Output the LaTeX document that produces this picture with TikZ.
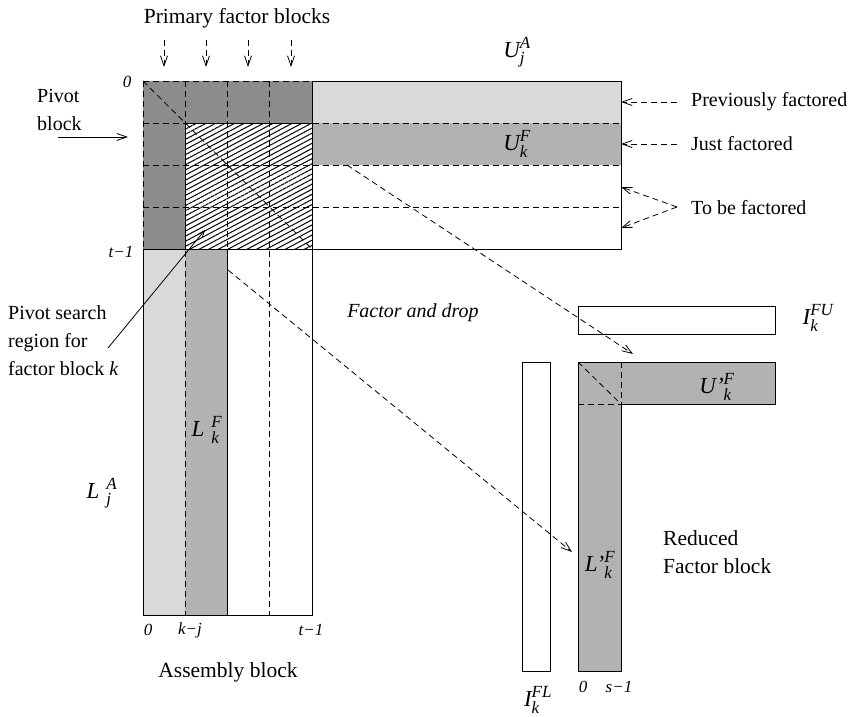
\documentclass[tikz,border=0pt]{standalone}
\usepackage{amsmath}
\usepackage{fontspec}
\setmainfont{Liberation Serif}
\usetikzlibrary{arrows.meta,patterns.meta}
\DeclareMathSizes{23}{23}{17}{13}
\definecolor{darkg}{gray}{0.55}
\definecolor{midg}{gray}{0.70}
\definecolor{lightg}{gray}{0.85}
\newcommand{\ml}[3]{$\textit{#1}^{\textit{#3}}_{\textit{#2}}$}
\begin{document}
\begin{tikzpicture}[x=1pt,y=-1pt,
  txt/.style={font=\fontsize{20}{28}\selectfont,inner sep=0pt},
  bigtxt/.style={font=\fontsize{21.5}{28}\selectfont,inner sep=0pt},
  itxt/.style={font=\fontsize{20}{28}\selectfont\itshape,inner sep=0pt},
  idx/.style={font=\fontsize{17}{20}\selectfont\itshape,inner sep=0pt},
  mlab/.style={font=\fontsize{23}{26}\selectfont,inner sep=0pt},
  dsh/.style={line width=0.8pt,dash pattern=on 6pt off 4pt},
  sol/.style={line width=0.9pt},
  tip/.style={-{Straight Barb[length=10pt,width=7pt,line width=0.8pt]}},
  darr/.style={dsh,tip},
]
\useasboundingbox (0,0) rectangle (849,717);

% ---------- fills ----------
\fill[lightg] (312,81) rectangle (621,123);
\fill[midg] (312,123) rectangle (621,165);
\fill[darkg] (143,81) rectangle (312,123);
\fill[darkg] (143,123) rectangle (185,249);
\fill[lightg] (143,249) rectangle (185,615);
\fill[midg] (185,249) rectangle (227,615);
\fill[white] (185,123) rectangle (312,249);
\fill[pattern={Lines[angle=28,distance=4.5pt,line width=1pt]}] (185,123) rectangle (312,249);

% ---------- dashed grid ----------
\draw[dsh] (143,81) -- (312,81);
\draw[dsh] (143,81) -- (143,249);
\draw[dsh] (143,123) -- (621,123);
\draw[dsh] (143,165) -- (621,165);
\draw[dsh] (143,207) -- (621,207);
\draw[dsh] (185,81) -- (185,615);
\draw[dsh] (227,81) -- (227,249);
\draw[dsh] (269,81) -- (269,615);
\draw[dsh] (143,81) -- (312,249);

% ---------- solid borders ----------
\draw[sol] (312,81) rectangle (621,249);
\draw[sol] (143,249) rectangle (312,615);
\draw[sol] (185,123) rectangle (312,249);
\draw[sol] (227,249) -- (227,615);

% ---------- reduced factor block ----------
\draw[sol] (578,306) rectangle (775,334);
\filldraw[sol,fill=midg] (578,362) -- (775,362) -- (775,404) -- (621,404) -- (621,671) -- (578,671) -- cycle;
\draw[dsh] (621,362) -- (621,404);
\draw[dsh] (578,404) -- (621,404);
\draw[dsh] (578,362) -- (621,404);
\draw[sol] (522,362) rectangle (550,671);

% ---------- texts ----------
\node[bigtxt] (pfb) at (237,18) {Primary factor blocks};
\foreach \i/\x in {1/164,2/206,3/248,4/291}{
  \coordinate (pfs\i) at (\x,40);
  \coordinate (pfe\i) at (\x,67);
  \draw[darr] (pfs\i) -- (pfe\i);
}
\node[idx] (zero1) at (127,82) {0};
\node[idx] (tm1a) at (121,252) {t−1};
\node[idx] (zero2) at (148,630) {0};
\node[idx] (kmj) at (190,630) {k−j};
\node[idx] (tm1b) at (311,630) {t−1};
\node[bigtxt] (asm) at (228,672) {Assembly block};

\node[mlab] (UjA) at (517,52) {\ml{U}{j}{A}};
\node[mlab] (UkF) at (517,144) {\ml{U}{k}{F}};
\node[mlab] (LkF) at (207,430) {$\textit{L}\;^{\textit{F}}_{\textit{k}}$};
\node[mlab] (LjA) at (102,493) {$\textit{L}\;^{\textit{A}}_{\textit{j}}$};

\node[txt,align=left,anchor=west] (pivb) at (37,110) {Pivot\\block};
\coordinate (pivs) at (58,137);
\coordinate (pive) at (128,137);
\draw[sol,tip] (pivs) -- (pive);

\node[txt,align=left,anchor=west] (psr) at (8,341) {Pivot search\\region for\\factor block \textit{k}};
\coordinate (psrs) at (108,348);
\coordinate (psre) at (205,230);
\draw[line width=0.8pt,-{Straight Barb[length=6pt,width=5pt,line width=0.8pt]}] (psrs) -- (psre);

\node[txt,anchor=west] (prev) at (691,102) {Previously factored};
\node[txt,anchor=west] (just) at (691,144) {Just factored};
\node[txt,anchor=west] (tobe) at (691,208) {To be factored};
\coordinate (prevs) at (677,102); \coordinate (preve) at (621,102);
\coordinate (justs) at (677,144); \coordinate (juste) at (621,144);
\coordinate (tobes) at (677,207); \coordinate (tobe1) at (621,187); \coordinate (tobe2) at (621,228);
\draw[darr] (prevs) -- (preve);
\draw[darr] (justs) -- (juste);
\draw[darr] (tobes) -- (tobe1);
\draw[darr] (tobes) -- (tobe2);

\node[itxt] (fad) at (413,313) {Factor and drop};
\coordinate (ua) at (347,165); \coordinate (ub) at (633,354);
\coordinate (la) at (228,270); \coordinate (lb) at (572,552);
\draw[darr] (ua) -- (ub);
\draw[darr] (la) -- (lb);

\node[mlab] (IFU) at (818,318) {\ml{I}{k}{FU}};
\node[mlab] (IFL) at (538,700) {\ml{I}{k}{FL}};
\node[mlab] (Upk) at (717,387) {\ml{U'}{k}{F}};
\node[mlab] (Lpk) at (600,565) {\ml{L'}{k}{F}};
\node[idx] (zero3) at (583,687) {0};
\node[idx] (sm1) at (619,687) {s−1};
\node[bigtxt,align=left,anchor=west] (red) at (663,552) {Reduced\\Factor block};
\end{tikzpicture}
\end{document}
